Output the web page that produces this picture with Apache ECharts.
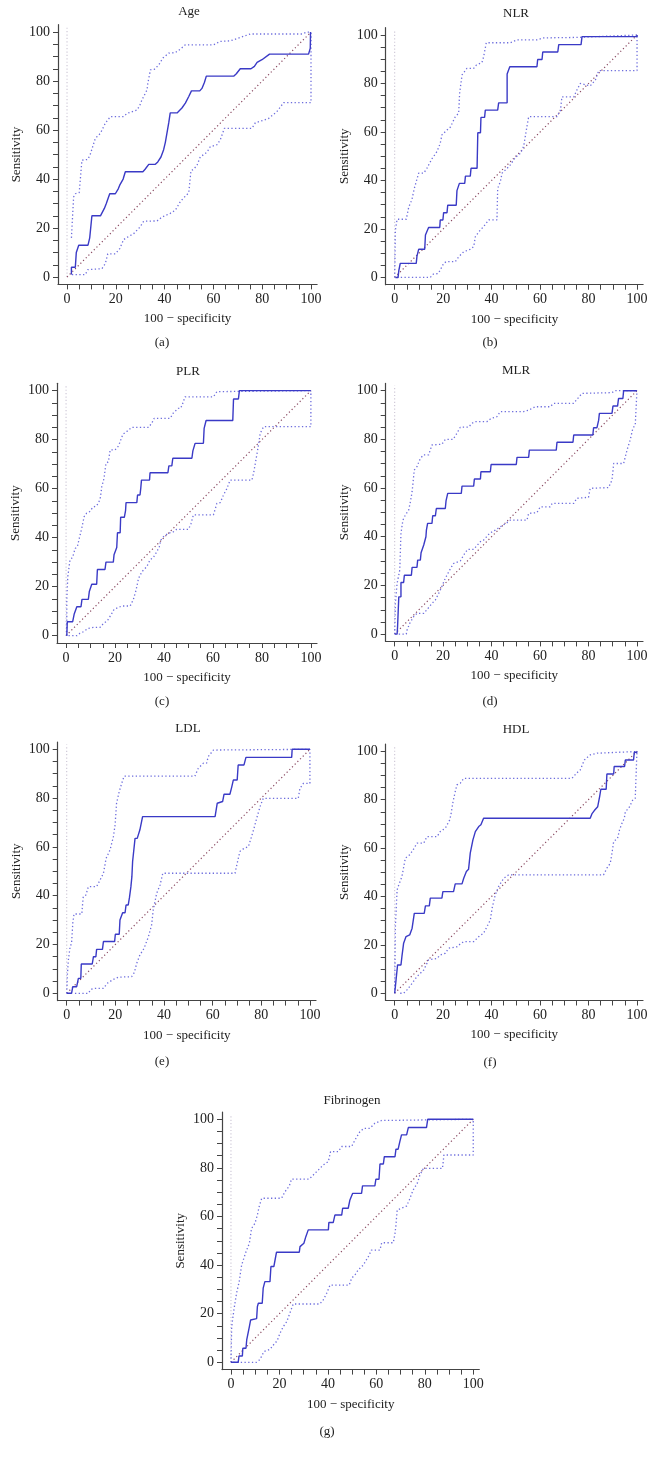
<!DOCTYPE html>
<html><head><meta charset="utf-8">
<script src="https://cdn.jsdelivr.net/npm/echarts@6/dist/echarts.min.js"></script>
<style>html,body{margin:0;padding:0;background:#fff}#c{width:654px;height:1458px}</style>
</head><body><div id="c"></div>
<script>
// ---------- data ----------
const panelTitles = ['Age', 'NLR', 'PLR', 'MLR', 'LDL', 'HDL', 'Fibrinogen'];
const panelTags = ['(a)', '(b)', '(c)', '(d)', '(e)', '(f)', '(g)'];
const tickLabels = [0, 20, 40, 60, 80, 100];
const tickMarks = [0, 5, 10, 15, 20, 25, 30, 35, 40, 45, 50, 55, 60, 65, 70, 75, 80, 85, 90, 95, 100];
const diagonalLine = [[0, 0], [100, 100]];
const zeroLine = [[0, 0], [0, 102]];

const ageRoc = [[1.8,1],[1.8,4],[3.4,4],[3.8,10],[4.8,13],[8.6,13],[9.3,16],[10.2,25],[13.7,25],[15.3,28],[16.1,30],[17.5,34],[19.8,34],[21,36],[21.6,37.5],[23,40],[23.9,43],[31.1,43],[32,44],[33.5,46],[36.2,46],[37.2,47],[38.5,49],[39.6,52],[40.3,55],[41,55],[41.7,63],[42.3,67],[45.1,67],[47.1,69],[48.5,71],[49.9,73.7],[51,76],[54.4,76],[55.3,77],[56.3,79.4],[57.1,82],[68.3,82],[69.4,83],[71,85],[75.4,85],[76.8,86],[77.9,87.6],[79.9,88.7],[83,91],[99,91],[99.7,93.4],[99.8,100]];
const ageUpper = [[1.8,16],[2.7,32.7],[3.4,34],[5,34.5],[6.1,47.7],[8.5,48],[9.5,50],[11.6,56.6],[13.7,58.7],[15.7,62.8],[17.8,65.5],[23.2,65.5],[24.6,66.8],[28.7,68.2],[29.8,70],[30.7,72.3],[32.8,76.4],[33.1,79],[34.2,84.6],[35.8,84.8],[37.6,86.6],[39.3,89.4],[41.7,91.4],[44.4,91.6],[46.4,93],[48.5,94.8],[60.1,94.8],[62.8,96.2],[66.9,96.4],[71,97.8],[75.1,99.2],[96.3,99.2],[98.4,100],[100,100]];
const ageLower = [[2,1],[7.5,1],[8.5,3],[14.3,3.4],[15.7,5.5],[16.7,9.5],[19.8,9.5],[21.6,11.6],[23.2,15.3],[25.3,16.6],[27.3,17.7],[30,20.5],[31.4,22.8],[36.9,22.9],[38.3,24],[39.6,24.8],[42.3,26],[44.4,27.3],[46.4,30.7],[47.5,32],[49.9,34.4],[50.8,43.4],[51.9,44],[53.3,45.7],[54.6,49],[57.4,51],[58.7,53.2],[61.5,54],[62.8,56],[64.5,60.7],[75.8,60.7],[77.2,63],[80.6,64],[82.7,64.8],[86,67.5],[88.8,71.2],[100,71.2],[100,100]];

const nlrRoc = [[0.3,0],[1.4,0],[1.7,2.75],[2.3,5.8],[8.9,5.8],[9.2,8.8],[9.9,11.6],[12.4,11.6],[12.7,17.5],[13.5,17.5],[14,20.6],[18.6,20.6],[18.8,23.7],[19.9,23.7],[20.2,26.7],[21.6,26.7],[21.9,29.8],[25.4,29.8],[25.7,35.8],[26.4,35.8],[26.7,38.8],[28.9,38.8],[29.2,41.8],[31.2,41.8],[31.5,45],[34,45],[34.3,59.7],[35.4,59.7],[35.6,66],[37.1,66],[37.4,69],[42.5,69],[42.9,72],[46.4,72],[46.4,83.9],[47.1,83.9],[47.5,86.9],[58.7,86.9],[59,89.9],[60.8,89.9],[61.1,93],[67.3,93],[67.7,96],[76.9,96],[77.3,99.3],[100,99.3],[100,100]];
const nlrUpper = [[0,0],[0.3,19.5],[1,24],[4.8,24],[5.8,29],[7.1,32],[8.1,36.7],[8.9,39.5],[9.9,43],[12,43],[13.3,45],[15.4,49],[17.5,52],[18.8,55.3],[19.5,58.8],[21.6,60.8],[23,62],[25,66.3],[26.4,67.7],[26.8,76],[27.8,83.5],[29.8,86.2],[32.6,86.2],[33.7,87.6],[36,88.6],[36.7,91],[37.8,96.8],[47.7,96.8],[50.5,98],[58.7,98],[61.5,98.8],[75.8,99],[100,100]];
const nlrLower = [[1,0],[14.7,0],[16,1.4],[17.9,1.6],[18.8,3],[20.2,5.8],[21.3,6.5],[25,6.5],[26.4,8.5],[28.5,10.6],[31.2,11.6],[32.6,12.7],[33.3,16.8],[34.7,18.8],[36.7,21],[38.8,23.7],[42.2,23.7],[42.5,36.7],[43.6,39.5],[44.3,43],[46.4,45],[47.7,46.4],[49.8,49.5],[51.9,51.2],[53.2,54],[54.6,62.4],[55.3,66.3],[67,66.3],[68.4,69],[69,74.5],[73.9,74.5],[75.2,77.3],[76.6,80],[80.7,79],[82.8,81.4],[84.2,85.3],[100,85.3],[100,100]];

const plrRoc = [[0.3,0],[0.5,5.7],[2.7,5.7],[3.3,8.7],[4.1,8.7],[4.4,11.8],[6.1,11.8],[6.5,14.8],[9.1,14.8],[9.5,18],[10.1,18],[10.5,21],[12.5,21],[12.8,27],[15.9,27],[16.3,30],[19.3,30],[19.6,33],[20.4,33],[20.7,36],[21,42],[22.1,42],[22.3,48.3],[23.8,48.3],[24.3,51],[24.5,54.3],[28.9,54.3],[29.2,57.4],[30.2,57.4],[30.5,60],[30.8,63.5],[34.1,63.5],[34.3,66.5],[41.6,66.5],[42,69.3],[43.2,69.3],[43.6,72.4],[51.4,72.4],[51.8,75.4],[52.3,75.4],[52.7,78.5],[56.1,78.5],[56.4,84.6],[56.8,84.6],[57.2,87.8],[68.1,87.8],[68.4,96.6],[70.4,96.6],[70.8,100],[100,100]];
const plrUpper = [[0.3,0],[0.3,14.6],[0.7,24],[1.6,30.9],[2.7,32],[3.7,35.6],[4.6,36.2],[5.4,39.7],[6.4,43.8],[7.1,44.5],[7.4,48.6],[8.4,50],[9.8,50.7],[10.9,52.4],[12.5,53],[13.9,55.6],[14.6,60.8],[15.5,64.2],[16.3,70.3],[17.3,71],[18,75.8],[20,75.8],[21.4,77.4],[22.1,79.2],[23.2,82.2],[24.8,83.3],[26.8,85],[33.7,85],[35,86.7],[36,88.7],[42.5,88.7],[43.9,91],[45.9,92.8],[46.8,92.8],[47.4,94.1],[48.6,97.5],[60.2,97.5],[61.6,99.6],[100,100]];
const plrLower = [[1,0],[4.4,0],[5.7,1],[7.1,1.6],[9.1,3],[11.4,3.4],[13.9,3.4],[15.3,5],[16.9,6.1],[18.3,8.4],[19.1,9.1],[19.6,10.7],[20.7,11.2],[22.8,12.1],[26.2,12.1],[27.5,14.8],[28.6,18.6],[29.6,23.4],[31,26.1],[33,28.2],[34.3,30.9],[35.7,32],[37.1,34.3],[38.1,36.3],[38.7,39],[39.8,40.4],[41.8,41.8],[43.9,42.4],[45.2,43.4],[50,43.4],[51,45.6],[52,49.3],[60.2,49.3],[60.9,51.6],[61.6,54],[63,54.3],[64.3,57.4],[65.7,60],[67,63.5],[75.9,63.5],[76.6,66.3],[77.2,69.7],[78.6,77.8],[79.3,82.6],[80.7,85.3],[100,85.3],[100,100]];

const mlrRoc = [[0,0],[1,0],[1.2,3],[1.7,15.3],[2.6,15.3],[2.6,21.2],[3.7,21.2],[4,24.2],[6.9,24.2],[7.2,27.4],[9.2,27.4],[9.5,30.4],[10.6,30.4],[10.9,33.4],[11.7,33.4],[12,36.6],[12.6,36.6],[12.9,40],[13.1,42.7],[13.6,45.5],[15.4,45.5],[15.7,48.6],[16.8,48.6],[17.2,51.6],[20.9,51.6],[21.2,54.7],[21.6,54.7],[21.9,57.8],[27.5,57.8],[27.8,60.8],[32.6,60.8],[32.9,63.7],[35.4,63.7],[35.6,66.7],[39.5,66.7],[39.8,69.7],[50.2,69.7],[50.5,72.6],[55.3,72.6],[55.6,75.6],[66.7,75.6],[67,78.8],[73.6,78.8],[73.9,81.8],[81.8,81.8],[82.1,84.8],[83.5,84.8],[84.2,87.9],[84.5,90.7],[89.7,90.7],[90.1,93.7],[92,93.7],[92.4,96.8],[94.2,96.8],[94.5,100],[100,100]];
const mlrUpper = [[0,0],[0.3,12.6],[1,20.8],[2.1,26.3],[2.6,41.4],[3.4,46.8],[4.4,48.9],[5.8,51],[6.5,54.4],[7.2,58.5],[8.1,67.4],[9.2,68.8],[10.3,71.5],[11.7,73.6],[14,73.6],[15.4,77.7],[19.5,78],[20.9,80],[24.1,80],[25.7,82.5],[27.1,85],[30.5,85],[31.9,86.6],[33.3,87.3],[38.1,87.3],[39.8,88.6],[42.2,89.3],[43.6,91.4],[53.2,91.4],[55.3,92],[58,93.4],[64.2,93.4],[65.6,94.8],[73.9,94.8],[75.2,96.4],[77.3,98.9],[89.7,99.2],[91,100],[100,100]];
const mlrLower = [[1.7,0],[4.8,0],[5.1,1.6],[6.2,4.4],[7.8,7.1],[9.2,8.5],[12,8.5],[13.3,10],[15.4,12.6],[16.8,14],[18.8,18],[20.9,22.9],[22.7,26.3],[24.3,29],[27.1,30.1],[28.5,32.5],[30.1,34.8],[32.6,34.8],[35.4,38],[36.7,38.6],[39.2,41.4],[41.5,42.7],[43.6,44.1],[46.4,45.8],[47.7,46.8],[54.6,46.8],[55.3,49.6],[58.7,49.9],[60.1,52.3],[64.2,52.3],[65,53.7],[73.9,53.7],[75.2,55.8],[80,56.2],[80.7,59.9],[88.3,60.2],[89.7,63.3],[90.4,70.1],[94.5,70.1],[95.9,75.6],[97.2,79.7],[98.3,84.5],[99.3,85.9],[100,86.6],[100,100]];

const ldlRoc = [[0,0],[2,0],[2.5,2.7],[4.1,2.7],[4.8,6.1],[5.8,6.1],[6,12],[10.5,12],[11,15],[12,15],[12.3,18],[14.7,18],[15.1,21.2],[19.7,21.2],[20,24.2],[21.6,24.2],[21.9,30],[22.6,30],[23,33],[24,33],[24.4,36.2],[25.3,36.2],[25.8,39.2],[26.4,43.7],[26.8,47.8],[27.1,54],[27.7,54],[28.1,63.5],[29,63.5],[30.1,67],[31.2,72.4],[61,72.4],[61.9,77.9],[62.3,78.6],[64.1,78.6],[64.7,81.6],[67.1,81.6],[67.8,84.3],[68.5,87.4],[70.1,87.4],[70.5,93.6],[72.9,93.6],[73.7,96.7],[92.5,96.7],[92.7,100],[100,100]];
const ldlUpper = [[0,0],[0.3,8],[0.7,13.7],[1.4,19],[2,20.5],[2.5,28.7],[3,32.5],[6.2,32.5],[6.8,39.6],[7.9,40.3],[8.9,43.7],[12.3,43.7],[13.7,46.4],[15.1,49.2],[16.2,55.3],[17.8,58.7],[19.2,64.2],[19.9,69],[20.5,77.9],[21.6,82.7],[22.6,86],[23.6,89],[52.7,89],[54.1,92.2],[56.2,94.3],[57.5,94.3],[58.2,97],[60.3,99.7],[100,100]];
const ldlLower = [[3.4,0],[8.9,0],[9.9,1.6],[11.6,2],[15.1,2],[16.7,4.1],[19.2,5.7],[21.2,6.6],[26.7,6.8],[27.8,8.5],[28.8,12.3],[30.1,15.7],[31.8,18.4],[33.6,23.2],[34.9,28],[35.6,34.2],[37,41],[38.4,44.4],[39.5,49.2],[69.2,49.2],[70.1,53.3],[71.2,58.1],[72.9,59.4],[74.7,60.1],[76,64.2],[77,67.6],[78.1,71.7],[79.5,76.5],[80.8,79.9],[95.2,79.9],[95.9,84],[97.3,86],[100,86],[100,100]];

const hdlRoc = [[0,0],[0.3,2.8],[1,3],[1.2,11.7],[2.6,11.7],[3,15.2],[3.7,20.7],[4.7,23.4],[6.2,24.1],[7.2,26.9],[8.1,33],[12.2,33],[12.7,36.1],[14.3,36.1],[14.7,39.3],[19.5,39.3],[19.9,42],[24.3,42],[25,45.2],[27.8,45.2],[28.5,47.5],[29.6,50.3],[30.5,51.2],[31.2,57.9],[32.3,63.4],[33.3,66.8],[34.7,68.9],[35.6,69.6],[36.7,72.3],[80.7,72.3],[81.4,74.1],[82.4,75.5],[83.2,75.5],[83.8,77.1],[84.2,79.2],[84.6,81.3],[85.1,84.3],[87.3,84.3],[87.6,90.6],[90.4,90.6],[90.6,93.7],[94.9,93.7],[95.2,96.4],[98.6,96.4],[98.9,99.6],[100,99.6],[100,100]];
const hdlUpper = [[0,0],[0.3,27.5],[1,42.7],[1.7,44.8],[3,48.2],[4.4,55.8],[6.2,57.2],[7.6,59.2],[9.2,62],[12,62],[13.3,64.7],[17.5,64.7],[18.8,66.8],[20.9,68.2],[22.7,71.6],[23.2,73.7],[24.1,79.2],[25,83.3],[25.7,86.1],[27.1,86.8],[28.5,88.8],[73.2,88.8],[75,90.9],[76.6,92.3],[78.3,96.4],[80.7,98.5],[83.5,99.2],[100,99.9]];
const hdlLower = [[2.3,0],[3.7,0],[5.1,1.4],[7.2,4.1],[9.2,6.9],[12,9.6],[14,13.8],[17.5,14.4],[18.8,15.8],[20.9,16.5],[22.3,18.6],[25.7,19.2],[27.1,20.4],[28.5,21.3],[32.6,21.3],[34.7,23.4],[36.7,24.8],[38.1,27.5],[39.5,30.3],[40.2,35.1],[41.5,40.6],[42.9,44.1],[45,47.5],[47,48.9],[86.2,48.9],[87.6,51.7],[89,53.7],[89.7,57.9],[90.4,62.7],[92,64],[92.8,67.5],[93.8,70.2],[94.8,72.3],[95.2,75.1],[96.6,76.4],[98.3,79.9],[99.3,80.6],[100,81.3],[100,100]];

const fibRoc = [[0,0],[3,0],[3.3,2.6],[4.7,2.6],[4.9,5.8],[6.2,5.8],[6.5,9.2],[7.2,9.2],[7.6,14.7],[8.1,17.4],[10.6,18],[10.9,22.9],[11.3,24.3],[12.9,24.3],[13.3,30.5],[14,33.2],[16.1,33.2],[16.5,39.4],[17.7,39.4],[18.2,42.1],[18.8,45.3],[28.2,45.3],[28.5,47.6],[29.2,48.3],[30.1,49],[30.9,51.7],[31.9,54.5],[40.2,54.5],[40.4,57.5],[42.2,57.5],[42.9,60.6],[45.7,60.6],[46.1,63.4],[48.4,63.4],[49.1,66.8],[50.2,69.5],[53.9,69.5],[54.3,72.6],[59.4,72.6],[59.8,75.3],[61.1,75.3],[61.5,81.6],[62.9,81.6],[63.3,84.6],[67.7,84.6],[68.1,87.7],[69,87.7],[69.7,90.8],[70.4,93.6],[72.5,93.6],[73.2,96.6],[80.7,96.6],[81.2,100],[100,100]];
const fibUpper = [[0,0],[0.3,14.7],[1.2,21.5],[2.3,28.4],[3.4,33.2],[4.4,40],[6.2,45.5],[7.6,49],[8.5,55.1],[9.9,57.2],[10.9,60.6],[11.7,64.3],[12.7,67.5],[20.9,67.5],[22.3,70.2],[24.1,72.6],[25,75.4],[32.3,75.4],[34,77.1],[36,79.1],[38.1,81.2],[40.2,82.6],[41.1,86.7],[44.3,86.7],[45.7,88.8],[49.8,88.8],[51.2,91.5],[53.2,94.9],[54.9,96.3],[57.4,96.3],[59.4,98.4],[62.2,99.5],[100,100]];
const fibLower = [[1,0],[10.6,0],[12,1.2],[13.6,4.4],[16.1,5.3],[17.5,7.1],[19.1,8.9],[20.2,11.9],[21.6,14.7],[23,16.7],[24.3,20.2],[25.7,24],[36.7,24],[38.1,25.7],[39.5,28.4],[40.9,31.8],[48.8,31.8],[49.8,34.6],[51.2,36],[52.5,38],[54.6,40],[56.7,43.5],[58,46.2],[61.5,46.2],[62.2,49.2],[67,49.2],[67.7,53],[68.1,56.5],[68.6,62.7],[70.4,63.4],[72.5,64.3],[73.6,66.8],[75.2,70.9],[76.9,73.7],[78,77.1],[79.4,79.8],[87.3,79.8],[87.9,85.3],[100,85.3],[100,100]];

// ---------- assembly ----------
const rocCurves = [ageRoc, nlrRoc, plrRoc, mlrRoc, ldlRoc, hdlRoc, fibRoc];
const upperBands = [ageUpper, nlrUpper, plrUpper, mlrUpper, ldlUpper, hdlUpper, fibUpper];
const lowerBands = [ageLower, nlrLower, plrLower, mlrLower, ldlLower, hdlLower, fibLower];

// layout (pixels)
const layouts = [
  {left:58,    top:24.7,  width:259.1, height:259.7, tx:189, ty:12,   gx:162, gy:343},
  {left:385.7, top:27.7,  width:257.4, height:257,   tx:516, ty:14,   gx:490, gy:343},
  {left:57,    top:383.3, width:260,   height:259.7, tx:188, ty:372,  gx:162, gy:702},
  {left:385.7, top:383.4, width:257.3, height:258,   tx:516, ty:371,  gx:490, gy:702},
  {left:57.7,  top:742,   width:258.3, height:258.6, tx:188, ty:729,  gx:162, gy:1062},
  {left:385.7, top:744,   width:257.3, height:256.5, tx:516, ty:730,  gx:490, gy:1063},
  {left:222,   top:1112,  width:257.3, height:257.6, tx:352, ty:1101, gx:327, gy:1432}
];

const FONT = '"Liberation Serif", "DejaVu Serif", serif';
const TXT = '#222';
const AXIS = '#444';
const MAIN = '#3a3ac6';
const CI = '#6d6ddd';
const DIAG = '#8a4a62';
const ZERO = '#cbc4d4';

const grids = [], xAxes = [], yAxes = [], series = [], graphics = [];
layouts.forEach((L, i) => {
  grids.push({left: L.left, top: L.top, width: L.width, height: L.height, containLabel: false});
  xAxes.push({
    gridIndex: i, type: 'value', min: -3.7, max: 102.5,
    name: '100 \u2212 specificity', nameLocation: 'middle', nameGap: 28,
    nameTextStyle: {fontFamily: FONT, fontSize: 13, color: TXT},
    axisLine: {show: true, onZero: false, lineStyle: {color: AXIS, width: 1.2}},
    axisTick: {show: true, inside: false, length: 5, customValues: tickMarks, lineStyle: {color: AXIS, width: 1}},
    axisLabel: {show: true, margin: 8, customValues: tickLabels, fontFamily: FONT, fontSize: 14, color: TXT},
    splitLine: {show: false}
  });
  yAxes.push({
    gridIndex: i, type: 'value', min: -3, max: 103,
    name: 'Sensitivity', nameLocation: 'middle', nameGap: 35,
    nameTextStyle: {fontFamily: FONT, fontSize: 13, color: TXT},
    axisLine: {show: true, onZero: false, lineStyle: {color: AXIS, width: 1.2}},
    axisTick: {show: true, inside: false, length: 5, customValues: tickMarks, lineStyle: {color: AXIS, width: 1}},
    axisLabel: {show: true, margin: 8, customValues: tickLabels, fontFamily: FONT, fontSize: 14, color: TXT},
    splitLine: {show: false}
  });
  const base = {type: 'line', xAxisIndex: i, yAxisIndex: i, showSymbol: false, symbol: 'none', silent: true, animation: false};
  series.push(Object.assign({}, base, {data: zeroLine, lineStyle: {color: ZERO, width: 1.1, type: [1.2, 2.2]}, z: 1}));
  series.push(Object.assign({}, base, {data: diagonalLine, lineStyle: {color: DIAG, width: 1.2, type: [1.2, 2.6]}, z: 2}));
  series.push(Object.assign({}, base, {data: upperBands[i], lineStyle: {color: CI, width: 1.3, type: [1.3, 2.4]}, z: 3}));
  series.push(Object.assign({}, base, {data: lowerBands[i], lineStyle: {color: CI, width: 1.3, type: [1.3, 2.4]}, z: 3}));
  series.push(Object.assign({}, base, {data: rocCurves[i], lineStyle: {color: MAIN, width: 1.4}, z: 4}));
  graphics.push({type: 'text', x: L.tx, y: L.ty, style: {text: panelTitles[i], font: '13px ' + FONT, fill: TXT, align: 'center', verticalAlign: 'middle'}});
  graphics.push({type: 'text', x: L.gx, y: L.gy, style: {text: panelTags[i], font: '13px ' + FONT, fill: TXT, align: 'center', verticalAlign: 'middle'}});
});

const chart = echarts.init(document.getElementById('c'), null, {renderer: 'canvas', width: 654, height: 1458});
chart.setOption({
  backgroundColor: '#ffffff',
  animation: false,
  grid: grids, xAxis: xAxes, yAxis: yAxes, series: series, graphic: graphics
});
</script>
</body></html>
